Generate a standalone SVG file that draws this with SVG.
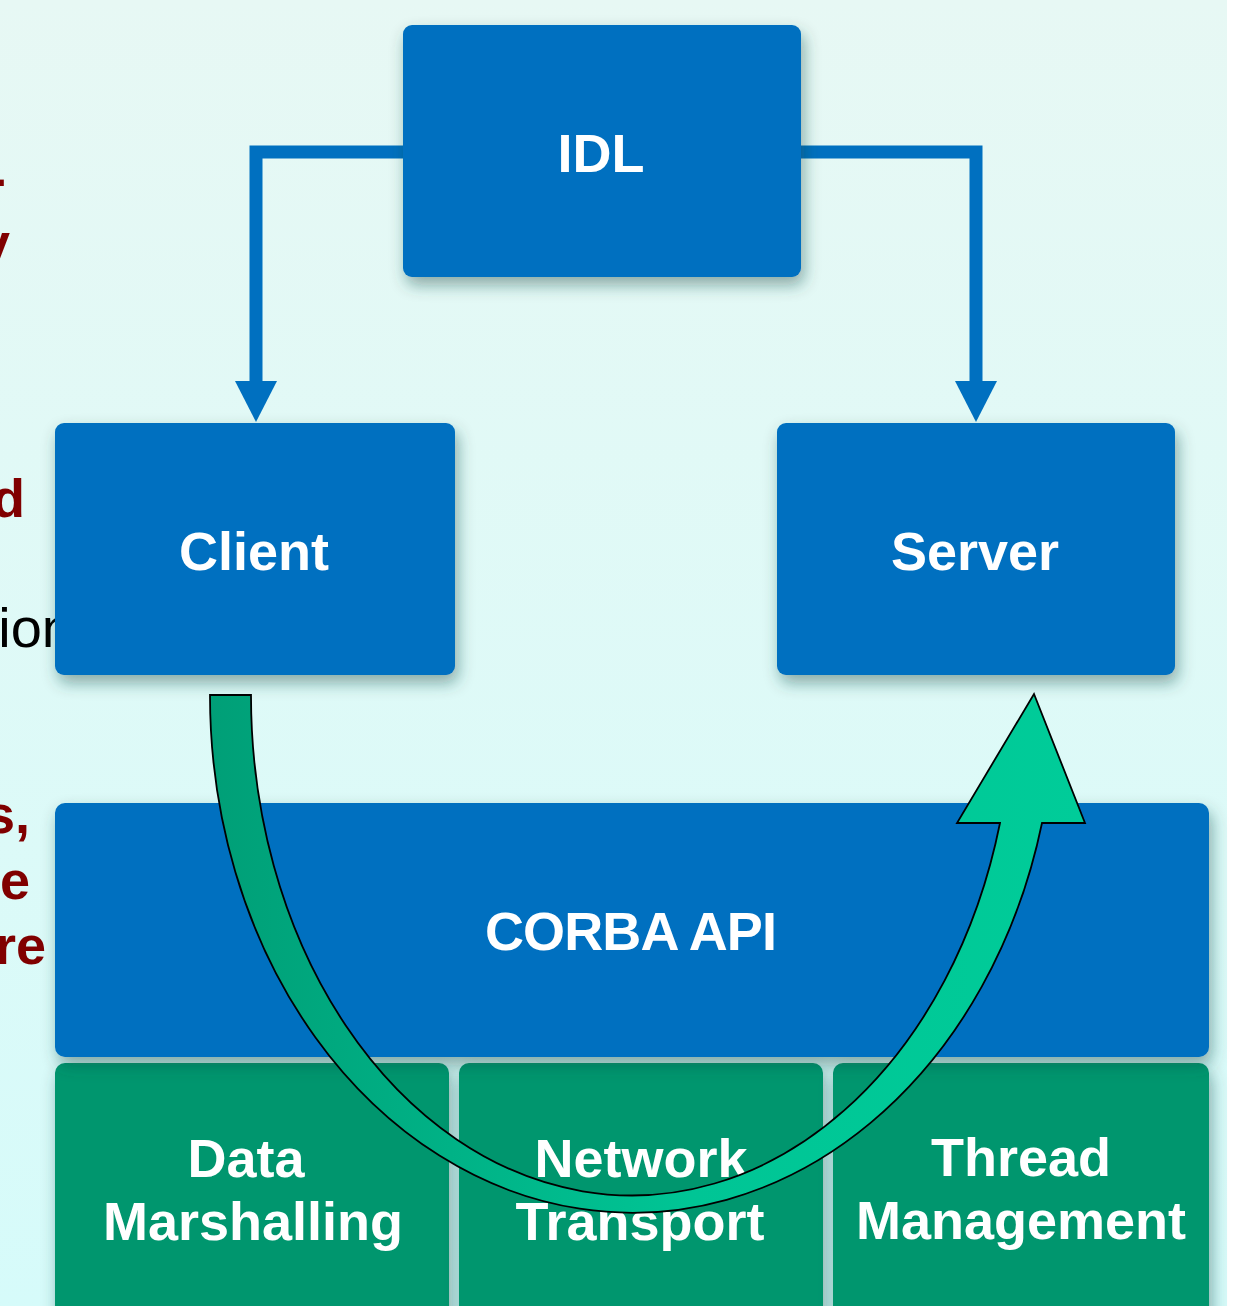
<svg xmlns="http://www.w3.org/2000/svg" width="1237" height="1306" viewBox="0 0 1237 1306">
  <defs>
    <linearGradient id="bg" x1="0" y1="0" x2="0" y2="1">
      <stop offset="0" stop-color="#e7f8f4"/>
      <stop offset="1" stop-color="#d6fbfa"/>
    </linearGradient>
    <linearGradient id="flow" gradientUnits="userSpaceOnUse" x1="210" y1="0" x2="1085" y2="0">
      <stop offset="0" stop-color="#009f77"/>
      <stop offset="0.55" stop-color="#00c595"/>
      <stop offset="1" stop-color="#00cc99"/>
    </linearGradient>
    <filter id="shadow" x="-10%" y="-10%" width="125%" height="145%">
      <feDropShadow dx="3" dy="8" stdDeviation="8" flood-color="#1e4a44" flood-opacity="0.45"/>
    </filter>
    <marker id="head" markerUnits="userSpaceOnUse" viewBox="0 -22 42 44" refX="14" refY="0" markerWidth="42" markerHeight="44" orient="auto" overflow="visible">
      <path d="M0,-21 L41,0 L0,21 Z" fill="#0070c0"/>
    </marker>
    <style>
      .box { fill: #0070c0; filter: url(#shadow); }
      .layer { fill: #00966e; filter: url(#shadow); }
      .label { font-family: "Liberation Sans", Arial, sans-serif; font-weight: bold; font-size: 54px; fill: #ffffff; text-anchor: middle; }
      .side { font-family: "Liberation Sans", Arial, sans-serif; font-weight: bold; font-size: 54px; fill: #800000; text-anchor: end; }
      .side-plain { font-family: "Liberation Sans", Arial, sans-serif; font-size: 56px; fill: #000000; text-anchor: end; }
      .link { fill: none; stroke: #0070c0; stroke-width: 13; stroke-linejoin: miter; marker-end: url(#head); }
    </style>
  </defs>

  <!-- backdrop -->
  <rect x="0" y="0" width="1237" height="1306" fill="#ffffff"/>
  <rect x="0" y="0" width="1227" height="1306" fill="url(#bg)"/>

  <!-- slide text running off the left edge -->
  <g id="side-text">
    <text class="side" x="6" y="197">-</text>
    <text class="side" x="10" y="261">y</text>
    <text class="side" x="25" y="517">d</text>
    <text class="side-plain" x="73" y="647">ion</text>
    <text class="side" x="30" y="833">s,</text>
    <text class="side" x="30" y="899">e</text>
    <text class="side" x="46" y="964">re</text>
  </g>

  <!-- IDL feeds both sides -->
  <g id="connectors">
    <path class="link" d="M403,152 H256 V395"/>
    <path class="link" d="M801,152 H976 V395"/>
  </g>

  <g id="idl">
    <rect class="box" x="403" y="25" width="398" height="252" rx="9"/>
    <text class="label" x="601" y="172">IDL</text>
  </g>

  <g id="client">
    <rect class="box" x="55" y="423" width="400" height="252" rx="9"/>
    <text class="label" x="254" y="570">Client</text>
  </g>

  <g id="server">
    <rect class="box" x="777" y="423" width="398" height="252" rx="9"/>
    <text class="label" x="975" y="570">Server</text>
  </g>

  <!-- ORB service layers -->
  <g id="data-marshalling">
    <rect class="layer" x="55" y="1063" width="394" height="280" rx="10"/>
    <text class="label" x="246" y="1177">Data</text>
    <text class="label" x="253" y="1240">Marshalling</text>
  </g>

  <g id="network-transport">
    <rect class="layer" x="459" y="1063" width="364" height="280" rx="10"/>
    <text class="label" x="641" y="1177">Network</text>
    <text class="label" x="640" y="1240">Transport</text>
  </g>

  <g id="thread-management">
    <rect class="layer" x="833" y="1063" width="376" height="280" rx="10"/>
    <text class="label" x="1021" y="1176">Thread</text>
    <text class="label" x="1021" y="1239">Management</text>
  </g>

  <g id="corba-api">
    <rect class="box" x="55" y="803" width="1154" height="254" rx="10"/>
    <text class="label" x="631" y="950" textLength="292" lengthAdjust="spacing">CORBA API</text>
  </g>

  <!-- request path: client down through the ORB and up to the server -->
  <g id="request-flow">
    <path d="M210,695 A422.5,517 0 0 0 1042,823 L1085,823 L1034,694 L957,823 L1000,823 A380.8,500 0 0 1 251,695 Z" fill="url(#flow)" stroke="#000000" stroke-width="1.8" stroke-linejoin="miter"/>
  </g>
</svg>
